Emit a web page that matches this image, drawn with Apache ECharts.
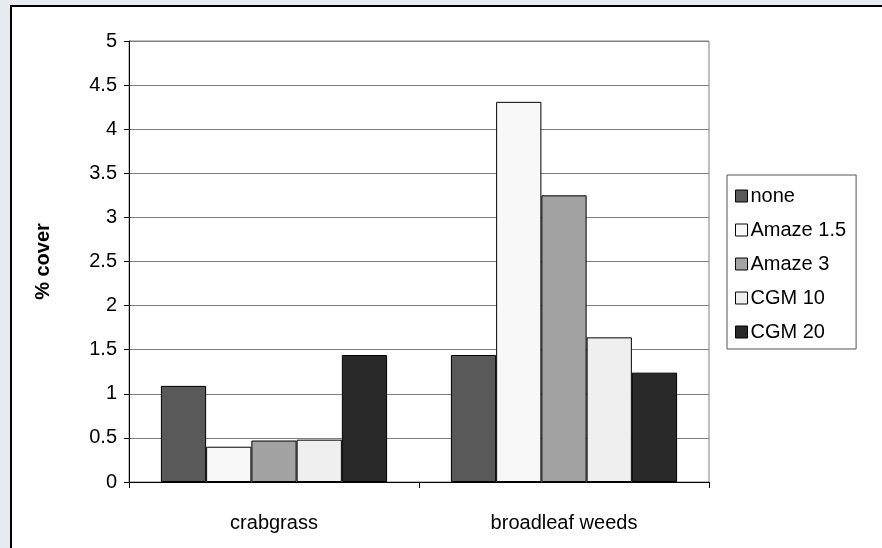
<!DOCTYPE html>
<html>
<head>
<meta charset="utf-8">
<script src="https://cdn.jsdelivr.net/npm/echarts@6/dist/echarts.min.js"></script>
<style>
html,body{margin:0;padding:0;background:#e7eaee;}
#c{width:882px;height:548px;}
</style>
</head>
<body>
<div id="c"></div>
<script>
const categories = ['crabgrass', 'broadleaf weeds'];
const seriesNames = ['none', 'Amaze 1.5', 'Amaze 3', 'CGM 10', 'CGM 20'];
const noneVals = [1.09, 1.44];
const amaze15Vals = [0.40, 4.31];
const amaze3Vals = [0.47, 3.25];
const cgm10Vals = [0.48, 1.64];
const cgm20Vals = [1.44, 1.24];
const yTicks = [0, 0.5, 1, 1.5, 2, 2.5, 3, 3.5, 4, 4.5, 5];
const colors = ['#595959', '#f8f8f8', '#a3a3a3', '#efefef', '#292929'];
const allVals = [noneVals, amaze15Vals, amaze3Vals, cgm10Vals, cgm20Vals];

const font = '"Liberation Sans", Arial, sans-serif';
const chart = echarts.init(document.getElementById('c'), null, {renderer: 'canvas'});
chart.setOption({
  backgroundColor: 'transparent',
  animation: false,
  graphic: [{
    type: 'rect', z: -10, silent: true,
    shape: {x: 11, y: 6, width: 900, height: 600},
    style: {fill: '#ffffff', stroke: '#000000', lineWidth: 2}
  }],
  grid: {left: 129, top: 41, right: 173, bottom: 66, show: true, borderColor: '#808080', borderWidth: 1, backgroundColor: 'transparent'},
  legend: {
    orient: 'vertical', left: 727, top: 175,
    data: seriesNames,
    icon: 'rect', itemWidth: 12, itemHeight: 12, itemGap: 12,
    padding: [10, 10, 6, 8],
    borderColor: '#555', borderWidth: 1, backgroundColor: '#fff',
    textStyle: {fontFamily: font, fontSize: 20, color: '#000', lineHeight: 22, padding: [0, 0, 0, -2]},
    itemStyle: {borderColor: '#000', borderWidth: 1}
  },
  xAxis: {
    type: 'category', data: categories,
    axisLine: {lineStyle: {color: '#000', width: 1}},
    axisTick: {show: true, length: 6, lineStyle: {color: '#000'}},
    axisLabel: {fontFamily: font, fontSize: 20, color: '#000', margin: 31},
    splitLine: {show: false}
  },
  yAxis: {
    type: 'value', min: yTicks[0], max: yTicks[yTicks.length - 1], interval: 0.5,
    name: '% cover', nameLocation: 'middle', nameGap: 76, nameRotate: 90,
    nameTextStyle: {fontFamily: font, fontSize: 20, fontWeight: 'bold', color: '#000'},
    axisLine: {show: true, lineStyle: {color: '#000', width: 1}},
    axisTick: {show: true, length: 5, lineStyle: {color: '#000'}},
    axisLabel: {fontFamily: font, fontSize: 20, color: '#000', margin: 12},
    splitLine: {show: true, lineStyle: {color: '#808080', width: 1}}
  },
  series: seriesNames.map((n, i) => ({
    name: n, type: 'bar', data: allVals[i],
    barGap: '0%', barCategoryGap: '22%',
    itemStyle: {color: colors[i], borderColor: '#000', borderWidth: 1}
  }))
});
</script>
</body>
</html>
